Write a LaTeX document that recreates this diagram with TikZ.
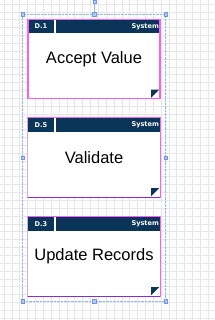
\documentclass[tikz,border=0pt]{standalone}
\usepackage{fontspec}
\setmainfont{Liberation Sans}
\newfontfamily\hdrfamily{DejaVu Sans}
\definecolor{hdrblue}{HTML}{0B3558}
\definecolor{selpink}{HTML}{FF5CFF}
\definecolor{selblue}{HTML}{8DB6EA}
\definecolor{gridgrey}{HTML}{E6E6E8}
\definecolor{edgepurple}{HTML}{8A2BD2}
\definecolor{edgelilac}{HTML}{D9A8F2}
\begin{document}
\begin{tikzpicture}[
        x=1pt, y=-1pt,
        every node/.style={inner sep=0pt},
        procbox/.style={
            fill=white,
            minimum width=132pt,
            minimum height=79pt,
            font=\fontsize{16.5}{18}\selectfont
        },
        hdrid/.style={
            fill=hdrblue,
            text=white,
            anchor=north west,
            minimum width=25.7pt,
            minimum height=14pt,
            font=\hdrfamily\bfseries\fontsize{6.6}{7}\selectfont
        },
        hdrsys/.style={
            fill=hdrblue,
            text=white,
            anchor=north east,
            text width=102.5pt,
            inner xsep=1pt,
            align=right,
            minimum height=14pt,
            font=\hdrfamily\bfseries\fontsize{6.6}{7}\selectfont
        },
        gridline/.style={gridgrey, line width=0.5pt},
        handle/.style={
            draw=selblue!80!blue,
            fill=selblue!70,
            line width=0.4pt,
            minimum size=3.6pt
        },
        selframe/.style={selblue, line width=0.6pt, dash pattern=on 2.5pt off 1pt}
    ]
        \useasboundingbox (0,0) rectangle (214,320);
        \fill[white] (0,0) rectangle (214,320);

        % background grid
        \foreach \i in {0,...,27}
            \draw[gridline] ({4+7.85*\i},0) -- ({4+7.85*\i},320);
        \foreach \j in {0,...,40}
            \draw[gridline] (0,{4+7.85*\j}) -- (214,{4+7.85*\j});

        % process boxes
        \node[procbox] (accept) at (94,59) {Accept Value};
        \node[procbox] (validate) at (94,157.5) {Validate};
        \node[procbox] (update) at (94,256.5) {Update Records};

        \node[hdrid] (acceptid) at (accept.north west) {D.1};
        \node[hdrsys] (acceptsys) at (accept.north east) {System};
        \node[hdrid] (validateid) at (validate.north west) {D.5};
        \node[hdrsys] (validatesys) at (validate.north east) {System};
        \node[hdrid] (updateid) at (update.north west) {D.3};
        \node[hdrsys] (updatesys) at (update.north east) {System};

        % folded corners
        \foreach \b in {accept, validate, update} {
            \fill[hdrblue] ([shift={(-9,-9)}]\b.south east) -- ([shift={(-1,-9)}]\b.south east)
                -- ([shift={(-9,-1)}]\b.south east) -- cycle;
        }

        % outlines
        \draw[selpink, line width=1.5pt] (accept.north west) rectangle (accept.south east);
        \foreach \b in {validate, update} {
            \draw[selpink, line width=0.8pt] (\b.north west) rectangle (\b.south east);
            \draw[edgelilac, line width=0.8pt] (\b.north west) -- (\b.south west);
            \draw[edgepurple, line width=1.1pt] (\b.south west) -- (\b.south east);
        }

        % selection frame and handles
        \coordinate (selnw) at (22.7,14);
        \coordinate (selse) at (165.7,301.3);
        \draw[selframe] (selnw) rectangle (selse);
        \node[handle] (hnw) at (selnw) {};
        \node[handle] (hn) at (94.2,14) {};
        \node[handle] (hne) at (165.7,14) {};
        \node[handle] (hw) at (22.7,157.7) {};
        \node[handle] (he) at (165.7,157.7) {};
        \node[handle] (hsw) at (22.7,301.3) {};
        \node[handle] (hs) at (94.2,301.3) {};
        \node[handle] (hse) at (selse) {};
        \node[handle, minimum size=3pt] (hrot) at (94.2,1.6) {};
        \draw[selblue, line width=0.6pt] (hrot) -- (hn);
    \end{tikzpicture}
\end{document}
